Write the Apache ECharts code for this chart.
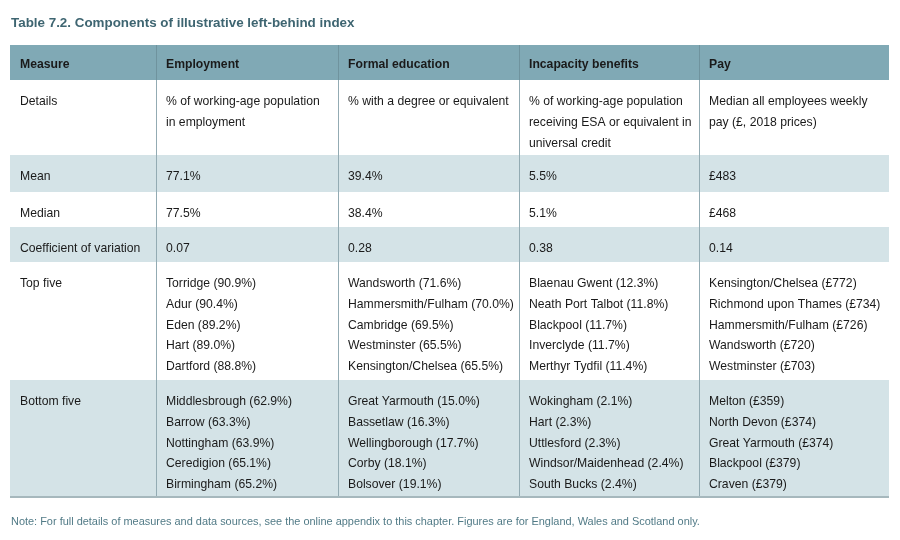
<!DOCTYPE html>
<html>
<head>
<meta charset="utf-8">
<script src="https://cdn.jsdelivr.net/npm/echarts@6/dist/echarts.min.js"></script>
<style>html,body{margin:0;padding:0;background:#fff}#c{width:900px;height:540px}</style>
</head>
<body>
<div id="c"></div>
<script>
// ---- data ----
const titleText = 'Table 7.2. Components of illustrative left-behind index';
const noteText = 'Note: For full details of measures and data sources, see the online appendix to this chapter. Figures are for England, Wales and Scotland only.';
const headers = ['Measure', 'Employment', 'Formal education', 'Incapacity benefits', 'Pay'];
const rowLabels = ['Details', 'Mean', 'Median', 'Coefficient of variation', 'Top five', 'Bottom five'];
const details = [
  ['% of working-age population', 'in employment'],
  ['% with a degree or equivalent'],
  ['% of working-age population', 'receiving ESA or equivalent in', 'universal credit'],
  ['Median all employees weekly', 'pay (£, 2018 prices)']
];
const meanVals = ['77.1%', '39.4%', '5.5%', '£483'];
const medianVals = ['77.5%', '38.4%', '5.1%', '£468'];
const covVals = ['0.07', '0.28', '0.38', '0.14'];
const topFive = [
  ['Torridge (90.9%)', 'Adur (90.4%)', 'Eden (89.2%)', 'Hart (89.0%)', 'Dartford (88.8%)'],
  ['Wandsworth (71.6%)', 'Hammersmith/Fulham (70.0%)', 'Cambridge (69.5%)', 'Westminster (65.5%)', 'Kensington/Chelsea (65.5%)'],
  ['Blaenau Gwent (12.3%)', 'Neath Port Talbot (11.8%)', 'Blackpool (11.7%)', 'Inverclyde (11.7%)', 'Merthyr Tydfil (11.4%)'],
  ['Kensington/Chelsea (£772)', 'Richmond upon Thames (£734)', 'Hammersmith/Fulham (£726)', 'Wandsworth (£720)', 'Westminster (£703)']
];
const bottomFive = [
  ['Middlesbrough (62.9%)', 'Barrow (63.3%)', 'Nottingham (63.9%)', 'Ceredigion (65.1%)', 'Birmingham (65.2%)'],
  ['Great Yarmouth (15.0%)', 'Bassetlaw (16.3%)', 'Wellingborough (17.7%)', 'Corby (18.1%)', 'Bolsover (19.1%)'],
  ['Wokingham (2.1%)', 'Hart (2.3%)', 'Uttlesford (2.3%)', 'Windsor/Maidenhead (2.4%)', 'South Bucks (2.4%)'],
  ['Melton (£359)', 'North Devon (£374)', 'Great Yarmouth (£374)', 'Blackpool (£379)', 'Craven (£379)']
];

// ---- layout (not data) ----
const colEdges = [0, 146, 328, 509, 689, 879];
const rowHeights = [35, 75, 37, 35, 35, 118, 117];
const bandRows = [2, 4, 6];
const FONT = '"Liberation Sans", Arial, Helvetica, sans-serif';
const FS = 12.2, LH = 20.7;

// build table rows (row 0 = header)
const bodyRows = [
  [[rowLabels[0]]].concat(details),
  [[rowLabels[1]]].concat(meanVals.map(v => [v])),
  [[rowLabels[2]]].concat(medianVals.map(v => [v])),
  [[rowLabels[3]]].concat(covVals.map(v => [v])),
  [[rowLabels[4]]].concat(topFive),
  [[rowLabels[5]]].concat(bottomFive)
];
const table = [headers.map(h => [h])].concat(bodyRows);
const rowTops = [0];
rowHeights.forEach((h, i) => rowTops.push(rowTops[i] + h));
const totalW = colEdges[colEdges.length - 1];
const totalH = rowTops[rowTops.length - 1];

const cellData = [];
table.forEach((row, r) => row.forEach((lines, c) => cellData.push([c, r])));

const chart = echarts.init(document.getElementById('c'), null, {renderer: 'canvas'});
chart.setOption({
  backgroundColor: '#ffffff',
  animation: false,
  title: [
    {text: titleText, left: 11, top: 17, padding: 0, textStyle: {fontFamily: FONT, fontSize: 13.4, fontWeight: 'bold', color: '#3e6571'}},
    {text: noteText, left: 11, top: 516, padding: 0, textStyle: {fontFamily: FONT, fontSize: 10.95, fontWeight: 'normal', color: '#527b87'}}
  ],
  grid: {left: 10, top: 45, width: totalW, height: totalH},
  xAxis: {type: 'value', min: 0, max: totalW, show: false},
  yAxis: {type: 'value', min: 0, max: totalH, inverse: true, show: false},
  series: [
    { // row backgrounds
      type: 'custom', silent: true, z: 1,
      data: rowHeights.map((h, i) => [i]),
      renderItem: function (params, api) {
        const r = api.value(0);
        let fill = null;
        if (r === 0) fill = '#80a9b5';
        else if (bandRows.indexOf(r) >= 0) fill = '#d4e3e7';
        if (!fill) return {type: 'group', children: []};
        const p0 = api.coord([0, rowTops[r]]);
        const p1 = api.coord([totalW, rowTops[r + 1]]);
        return {type: 'rect', shape: {x: p0[0], y: p0[1], width: p1[0] - p0[0], height: p1[1] - p0[1]}, style: {fill: fill}};
      }
    },
    { // column dividers
      type: 'custom', silent: true, z: 2,
      data: colEdges.slice(1, -1).map((e, i) => [i + 1]),
      renderItem: function (params, api) {
        const c = api.value(0);
        const pTop = api.coord([colEdges[c], 0]);
        const pHead = api.coord([colEdges[c], rowTops[1]]);
        const pBot = api.coord([colEdges[c], totalH]);
        const x = Math.round(pTop[0]) + 0.5;
        return {type: 'group', children: [
          {type: 'line', shape: {x1: x, y1: pTop[1], x2: x, y2: pHead[1]}, style: {stroke: '#6f939e', lineWidth: 1}},
          {type: 'line', shape: {x1: x, y1: pHead[1], x2: x, y2: pBot[1]}, style: {stroke: '#93abb3', lineWidth: 1}}
        ]};
      }
    },
    { // bottom border
      type: 'custom', silent: true, z: 3,
      data: [[0]],
      renderItem: function (params, api) {
        const p0 = api.coord([0, totalH]);
        const p1 = api.coord([totalW, totalH]);
        return {type: 'line', shape: {x1: p0[0], y1: p0[1], x2: p1[0], y2: p1[1]}, style: {stroke: '#a6b8bd', lineWidth: 2}};
      }
    },
    { // cell text
      type: 'custom', silent: true, z: 4,
      data: cellData,
      renderItem: function (params, api) {
        const c = api.value(0), r = api.value(1);
        const lines = table[r][c];
        const p = api.coord([colEdges[c], rowTops[r]]);
        const x = p[0] + 10;
        const y0 = p[1] + (r === 0 ? 20 : 22);
        return {type: 'group', children: lines.map((t, k) => ({
          type: 'text',
          style: {text: t, x: x, y: y0 + k * LH, fill: '#1a1a1a', font: (r === 0 ? 'bold ' : '') + FS + 'px ' + FONT, align: 'left', verticalAlign: 'middle'}
        }))};
      }
    }
  ]
});
</script>
</body>
</html>
